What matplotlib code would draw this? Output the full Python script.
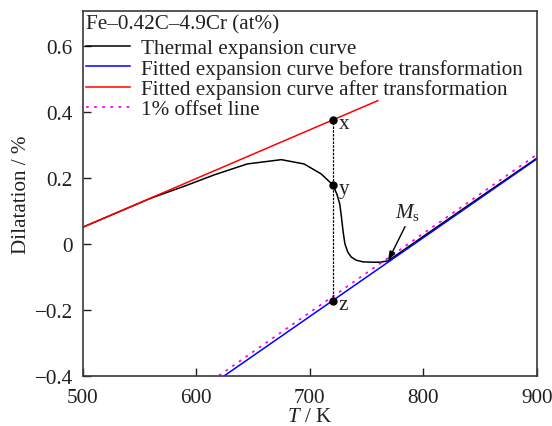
import numpy as np
import matplotlib.pyplot as plt

plt.rcParams['font.family'] = ['Liberation Serif', 'DejaVu Serif']
plt.rcParams['mathtext.fontset'] = 'custom'
plt.rcParams['mathtext.rm'] = 'Liberation Serif'
plt.rcParams['mathtext.it'] = 'Liberation Serif:italic'

# data
curve_T = [500, 530, 560, 590, 616, 645, 675, 695, 710, 720.5, 724, 726.5,
           728, 729.5, 731, 733.5, 736.5, 741, 747, 755, 762, 769, 800, 850, 900]
curve_y = [0.05, 0.094, 0.138, 0.175, 0.209, 0.242, 0.255, 0.242, 0.212, 0.178,
           0.15, 0.12, 0.08, 0.035, 0.0, -0.025, -0.04, -0.05, -0.055, -0.056,
           -0.056, -0.052, 0.022, 0.141, 0.259]
before_T = [625, 900]
before_y = [-0.4, 0.257]
after_T = [500, 760]
after_y = [0.05, 0.434]
offset_T = [620, 900]
offset_y = [-0.4, 0.27]
pt_T = 720.5
pt_y = [0.376, 0.178, -0.173]
pt_names = ['x', 'y', 'z']
ms_T, ms_y = 769, -0.052
ms_from = (784, 0.052)

xticks = [500, 600, 700, 800, 900]
yticks = [-0.4, -0.2, 0, 0.2, 0.4, 0.6]
ylabels = ['\u22120.4', '\u22120.2', '0', '0.2', '0.4', '0.6']

txt = '#231f20'
fs = 15.2
fig = plt.figure(figsize=(5.52, 4.27), dpi=100)
ax = fig.add_axes([0.1498, 0.118, 0.8225, 0.854])

ax.plot(curve_T, curve_y, color='black', lw=1.1, label='Thermal expansion curve')
ax.plot(before_T, before_y, color='#0000ff', lw=1.1,
        label='Fitted expansion curve before transformation')
ax.plot(after_T, after_y, color='#ff0000', lw=1.1,
        label='Fitted expansion curve after transformation')
ax.plot(offset_T, offset_y, color='#ff00ff', lw=1.3, ls=(0, (1.5, 3)),
        label='1% offset line')

ax.plot([pt_T, pt_T], [pt_y[-1], pt_y[0]], color='black', lw=0.9, ls=(0, (2, 1)))
ax.plot([pt_T] * 3, pt_y, 'o', color='black', ms=5)
for yy, nm in zip(pt_y, pt_names):
    ax.text(pt_T + 5, yy - 0.012, nm, fontsize=fs, color=txt, va='center')

ax.text(775, 0.065, '$M_{\\mathrm{s}}$', fontsize=fs, color=txt, ha='left', va='bottom')
ax.annotate('', xy=(ms_T, ms_y), xytext=ms_from,
            arrowprops=dict(arrowstyle='-|>,head_length=0.55,head_width=0.18',
                            color='black', lw=1.0, shrinkA=0, shrinkB=0))

ax.set_xlim(500, 900)
ax.set_ylim(-0.4, 0.706)
ax.set_xticks(xticks)
ax.set_yticks(yticks)
ax.set_yticklabels(ylabels)
ax.tick_params(direction='in', length=6, width=1, labelsize=fs, colors=txt)
ax.tick_params(axis='x', pad=9)
ax.tick_params(axis='y', pad=7)
for s in ax.spines.values():
    s.set_linewidth(1.2)
    s.set_color('#3a3a3a')

ax.set_xlabel('$T$ / K', fontsize=fs, color=txt, labelpad=0)
ax.set_ylabel('Dilatation / %', fontsize=fs, color=txt, labelpad=3)

leg = ax.legend(loc='upper left', title='Fe\u20130.42C\u20134.9Cr (at%)',
                frameon=False, fontsize=fs, title_fontsize=fs,
                handlelength=2.1, handletextpad=0.5, labelspacing=0.02,
                borderaxespad=0.0, borderpad=0.15)
leg._legend_box.align = 'left'
leg._legend_box.sep = 0.25 * fs
for t in leg.get_texts():
    t.set_color(txt)
leg.get_title().set_color(txt)

fig.savefig('out.png', dpi=100)
